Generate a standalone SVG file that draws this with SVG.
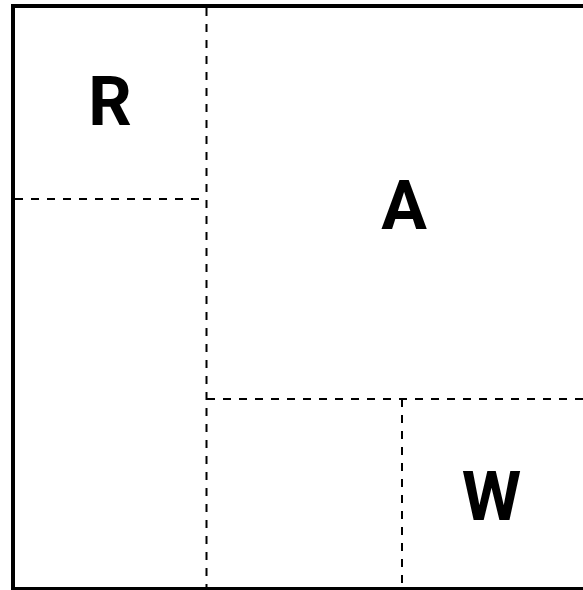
<svg xmlns="http://www.w3.org/2000/svg" width="583" height="590" viewBox="0 0 583 590">
<style>
.border{fill:none;stroke:#000;stroke-width:4}
.dash{fill:none;stroke:#000;stroke-width:2;stroke-dasharray:8 8}
.lbl{font-family:Roboto,"Liberation Sans",Arial,sans-serif;font-weight:bold;font-size:68px;fill:#000;text-anchor:middle}
</style>
<rect width="583" height="590" fill="#fff"/>
<g id="frame">
<rect class="border" x="13" y="6" width="600" height="583"/>
</g>
<g id="connectors">
<line class="dash" x1="206.5" y1="8" x2="206.5" y2="587"/>
<line class="dash" x1="15" y1="199" x2="206.5" y2="199"/>
<line class="dash" x1="207" y1="399" x2="583" y2="399"/>
<line class="dash" x1="402" y1="399" x2="402" y2="587"/>
</g>
<g id="R"><text class="lbl" x="110" y="125">R</text></g>
<g id="A"><text class="lbl" x="404" y="229">A</text></g>
<g id="W"><text class="lbl" x="491.5" y="520">W</text></g>
</svg>
